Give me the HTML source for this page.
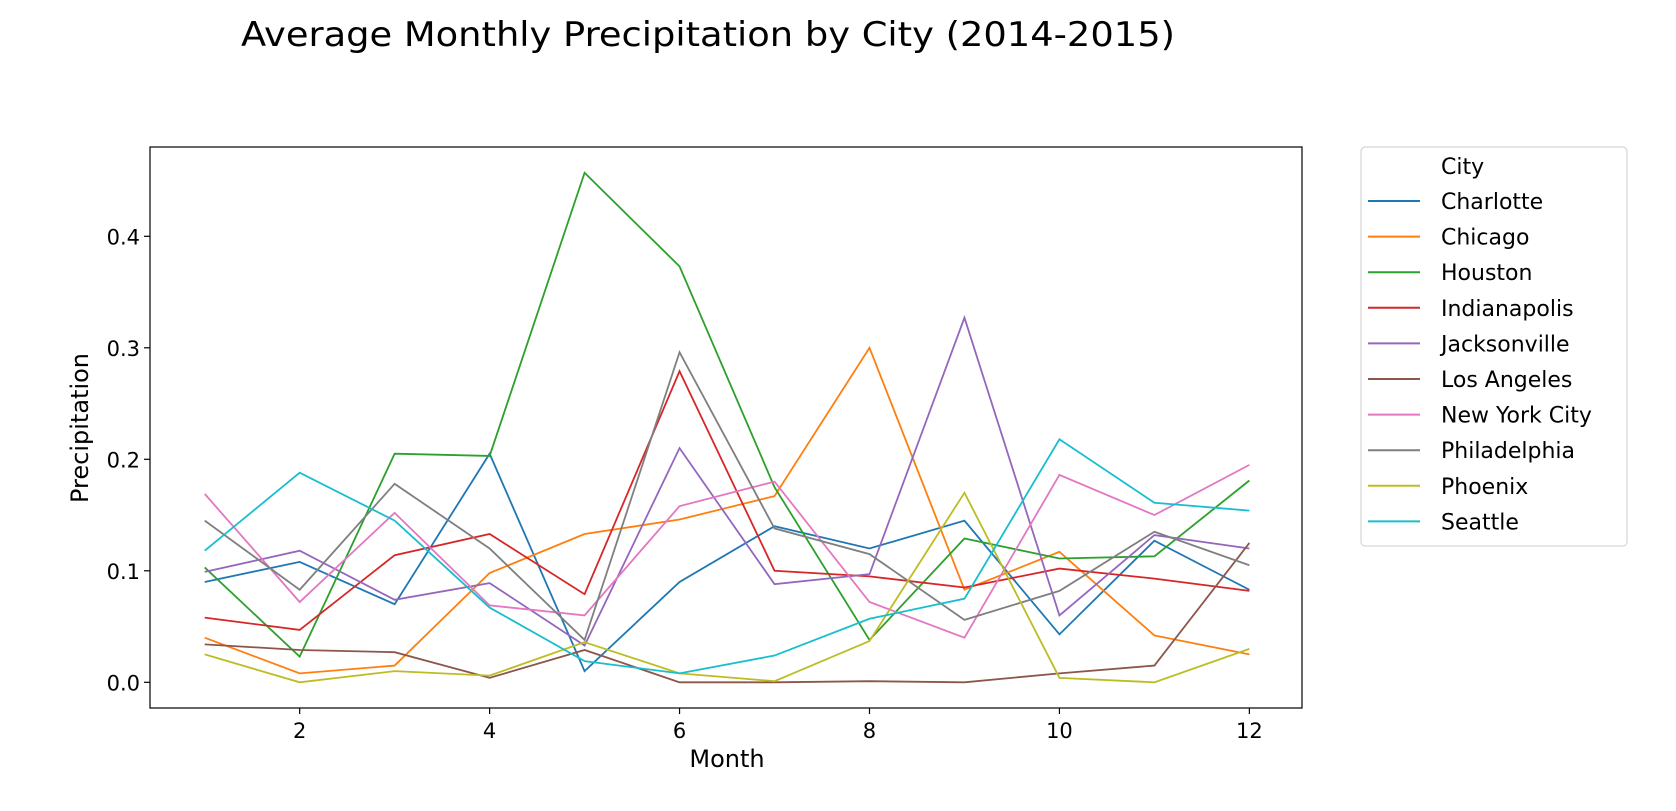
<!DOCTYPE html>
<html><head><meta charset="utf-8"><style>
html,body{margin:0;padding:0;background:#fff;}
svg text{font-family:"DejaVu Sans","Liberation Sans",sans-serif;fill:#000;}
</style></head><body>
<svg id="chart" width="1676" height="806" xmlns="http://www.w3.org/2000/svg">
<text x="708" y="46" font-size="33.5" text-anchor="middle" textLength="934" lengthAdjust="spacingAndGlyphs">Average Monthly Precipitation by City (2014-2015)</text>
<g id="plot"></g>
<text x="727" y="767" font-size="24" text-anchor="middle">Month</text>
<text x="0" y="0" font-size="24" text-anchor="middle" transform="translate(88,428) rotate(-90)">Precipitation</text>
<g id="legend"></g>
</svg>
<script>
const months = [1,2,3,4,5,6,7,8,9,10,11,12];
const cities = ["Charlotte","Chicago","Houston","Indianapolis","Jacksonville","Los Angeles","New York City","Philadelphia","Phoenix","Seattle"];
const colors = ["#1f77b4","#ff7f0e","#2ca02c","#d62728","#9467bd","#8c564b","#e377c2","#7f7f7f","#bcbd22","#17becf"];
const charlotte = [.09,.108,.07,.205,.01,.09,.14,.12,.145,.043,.127,.083];
const chicago = [.04,.008,.015,.098,.133,.146,.167,.3,.083,.117,.042,.025];
const houston = [.103,.023,.205,.203,.457,.373,.175,.038,.129,.111,.113,.181];
const indianapolis = [.058,.047,.114,.133,.079,.279,.1,.095,.085,.102,.093,.082];
const jacksonville = [.099,.118,.074,.089,.033,.21,.088,.097,.327,.06,.132,.12];
const losAngeles = [.034,.029,.027,.004,.029,0,0,.001,0,.008,.015,.125];
const newYorkCity = [.169,.072,.152,.069,.06,.158,.18,.072,.04,.186,.15,.195];
const philadelphia = [.145,.083,.178,.12,.038,.296,.138,.115,.056,.082,.135,.105];
const phoenix = [.025,0,.01,.006,.036,.008,.001,.037,.17,.004,0,.03];
const seattle = [.118,.188,.145,.067,.019,.008,.024,.057,.075,.218,.161,.154];
const series = [charlotte,chicago,houston,indianapolis,jacksonville,losAngeles,newYorkCity,philadelphia,phoenix,seattle];
const xTicks = [2,4,6,8,10,12];
const yTicks = [0,0.1,0.2,0.3,0.4];
const yTickLabels = ["0.0","0.1","0.2","0.3","0.4"];

const NS="http://www.w3.org/2000/svg";
const L=150,R=1302,T=147,B=708;
const xs=m=>204.7+(m-1)*94.97;
const ys=v=>682.3-v*1115;
function mk(tag,attrs,parent){const e=document.createElementNS(NS,tag);for(const k in attrs)e.setAttribute(k,attrs[k]);parent.appendChild(e);return e;}
const plot=document.getElementById('plot');
series.forEach((s,i)=>{
  const p=mk('polyline',{points:s.map((v,j)=>xs(months[j])+','+ys(v)).join(' '),fill:'none',stroke:colors[i],'stroke-width':1.8},plot);
  
  
});
const frame=mk('rect',{x:L,y:T,width:R-L,height:B-T,fill:'none',stroke:'#000','stroke-width':1.2},plot);


xTicks.forEach(t=>{
  const x=xs(t);
  mk('line',{x1:x,x2:x,y1:B,y2:B+6,stroke:'#000','stroke-width':1.2},plot);
  const tx=mk('text',{x:x,y:B+30,'font-size':21,'text-anchor':'middle'},plot);
  tx.textContent=t;
  
  
});
yTicks.forEach((t,i)=>{
  const y=ys(t);
  mk('line',{x1:L-6,x2:L,y1:y,y2:y,stroke:'#000','stroke-width':1.2},plot);
  const tx=mk('text',{x:L-10,y:y+8,'font-size':21,'text-anchor':'end'},plot);
  tx.textContent=yTickLabels[i];
  
  
});
const lg=document.getElementById('legend');
const box=mk('rect',{x:1361,y:147,width:266,height:399,rx:4,fill:'#fff',stroke:'#ccc','stroke-width':1},lg);


const ttl=mk('text',{x:1441,y:174,'font-size':22},lg);
ttl.textContent='City';


cities.forEach((c,i)=>{
  const y=201+i*35.6;
  const g=mk('g',{},lg);
  
  
  mk('line',{x1:1368,x2:1420,y1:y,y2:y,stroke:colors[i],'stroke-width':2},g);
  const t=mk('text',{x:1441,y:y+8,'font-size':22},g);
  t.textContent=c;
});
</script>
</body></html>
